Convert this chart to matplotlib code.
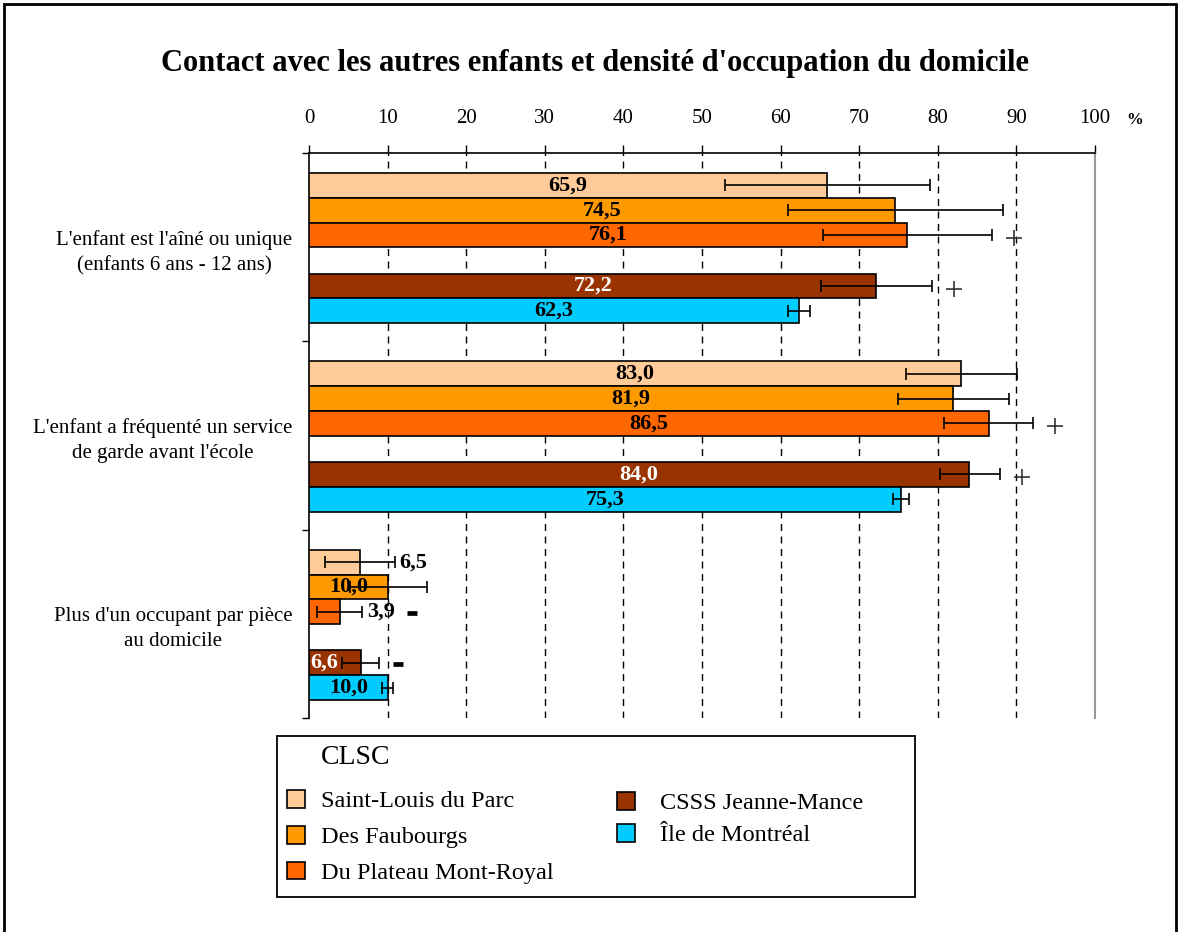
import matplotlib.pyplot as plt
from matplotlib.patches import Patch, Rectangle
from matplotlib.transforms import offset_copy

# Data
categories = ["L'enfant est l'aîné ou unique\n(enfants 6 ans - 12 ans)",
              "L'enfant a fréquenté un service\nde garde avant l'école",
              "Plus d'un occupant par pièce\nau domicile"]
series = ['Saint-Louis du Parc', 'Des Faubourgs', 'Du Plateau Mont-Royal',
          'CSSS Jeanne-Mance', 'Île de Montréal']
colors = ['#FFCC99', '#FF9900', '#FF6600', '#993300', '#00CCFF']

saint_louis = [65.9, 83.0, 6.5]
faubourgs = [74.5, 81.9, 10.0]
plateau = [76.1, 86.5, 3.9]
csss = [72.2, 84.0, 6.6]
ile = [62.3, 75.3, 10.0]
values = [saint_louis, faubourgs, plateau, csss, ile]

# confidence intervals (low, high)
ci_saint_louis = [(52.9, 79.0), (75.9, 90.1), (2.0, 10.9)]
ci_faubourgs = [(60.9, 88.3), (74.9, 89.1), (5.2, 15.0)]
ci_plateau = [(65.4, 86.9), (80.8, 92.1), (1.0, 6.8)]
ci_csss = [(65.1, 79.3), (80.3, 87.9), (4.2, 8.9)]
ci_ile = [(60.9, 63.7), (74.3, 76.3), (9.3, 10.7)]
cis = [ci_saint_louis, ci_faubourgs, ci_plateau, ci_csss, ci_ile]

# significance marks vs Île de Montréal
sig_plateau = ['+', '+', '-']
sig_csss = ['+', '+', '-']
sigs = [['', '', ''], ['', '', ''], sig_plateau, sig_csss, ['', '', '']]

plt.rcParams['font.family'] = 'Liberation Serif'

fig = plt.figure(figsize=(11.8, 9.32), dpi=100)
ax = fig.add_axes([309 / 1180, 1 - 718 / 932, (1095 - 309) / 1180, (718 - 153) / 932])

G = 7.6
offsets = [1.31, 2.31, 3.31, 5.37, 6.37]

for s in range(5):
    ys = [g * G + offsets[s] for g in range(3)]
    ax.barh(ys, values[s], height=1.0, color=colors[s], edgecolor='black',
            linewidth=1.2, zorder=3)
    lo = [values[s][g] - cis[s][g][0] for g in range(3)]
    hi = [cis[s][g][1] - values[s][g] for g in range(3)]
    ax.errorbar(values[s], ys, xerr=[lo, hi], fmt='none', ecolor='black',
                elinewidth=1.2, capsize=4, capthick=1.2, zorder=4)
    for g in range(3):
        v = values[s][g]
        txt = f'{v:.1f}'.replace('.', ',')
        tc = 'white' if s == 3 else 'black'
        outside = v < 8 and s in (0, 2)
        if outside:
            ax.annotate(txt, (cis[s][g][1], ys[g]), xytext=(3.5, 0),
                        textcoords='offset points', ha='left', va='center',
                        fontsize=16, fontweight='bold', color=tc, zorder=5)
        elif v < 8:
            ax.annotate(txt, (0, ys[g]), xytext=(1, 0), textcoords='offset points',
                        ha='left', va='center', fontsize=16, fontweight='bold',
                        color=tc, zorder=5)
        else:
            ax.text(v / 2, ys[g], txt, ha='center', va='center', fontsize=16,
                    fontweight='bold', color=tc, zorder=5)
        mark = sigs[s][g]
        if mark == '+':
            tr = offset_copy(ax.transData, fig=fig, x=22, y=-2.5, units='dots')
            ax.plot([cis[s][g][1]], [ys[g]], transform=tr, marker='+', ms=11.5,
                    mew=1.2, color='#333333', zorder=5)
        elif mark == '-':
            dx = 50 if outside else 19
            tr = offset_copy(ax.transData, fig=fig, x=dx, y=-1, units='dots')
            ax.plot([cis[s][g][1]], [ys[g]], transform=tr, marker='_', ms=7,
                    mew=3.4, color='black', zorder=5)

ax.set_xlim(0, 100)
ax.set_ylim(3 * G, 0)
ax.xaxis.tick_top()
ax.set_xticks(range(0, 101, 10))
ax.tick_params(axis='x', direction='out', length=6, width=1, pad=12, labelsize=15)
for x in range(10, 100, 10):
    ax.axvline(x, color='black', lw=1, ls=(0, (5, 4)), zorder=1)

ax.set_yticks([0, G, 2 * G, 3 * G])
ax.set_yticklabels([])
ax.tick_params(axis='y', which='major', direction='out', length=5, width=1)
ax.set_yticks([g * G + G / 2 for g in range(3)], minor=True)
ax.set_yticklabels(categories, minor=True, fontsize=15, multialignment='center',
                   linespacing=1.4)
ax.tick_params(axis='y', which='minor', length=0, pad=12)

ax.spines['bottom'].set_visible(False)
ax.spines['right'].set_color('#999999')
ax.spines['right'].set_linewidth(1.5)
ax.spines['top'].set_linewidth(1.2)
ax.spines['left'].set_linewidth(1.2)

fig.text(595 / 1180, 1 - 63 / 932, "Contact avec les autres enfants et densité d'occupation du domicile",
         ha='center', va='center', fontsize=22, fontweight='bold')
fig.text(1135 / 1180, 1 - 120 / 932, '%', ha='center', va='center', fontsize=12,
         fontweight='bold')

# legend: frame drawn separately, two columns placed as two legends
fig.add_artist(Rectangle((277 / 1180, 1 - 897 / 932), (915 - 277) / 1180, (897 - 736) / 932,
                         transform=fig.transFigure, fill=False, edgecolor='black',
                         linewidth=1.3))
handles = [Patch(facecolor=c, edgecolor='black', linewidth=1.2) for c in colors]
fig.legend(handles[:3], series[:3], loc='upper left',
           bbox_to_anchor=(287 / 1180, 1 - 790 / 932), fontsize=17.5,
           frameon=False, handlelength=0.74, handleheight=0.74,
           handletextpad=0.66, labelspacing=0.56, borderpad=0, borderaxespad=0)
fig.legend(handles[3:], series[3:], loc='upper left',
           bbox_to_anchor=(617 / 1180, 1 - 792 / 932), fontsize=17.5,
           frameon=False, handlelength=0.74, handleheight=0.74,
           handletextpad=1.03, labelspacing=0.4, borderpad=0, borderaxespad=0)
fig.text(321 / 1180, 1 - 758 / 932, 'CLSC', ha='left', va='center', fontsize=20)

fig.add_artist(Rectangle((4 / 1180, -0.01), 1172 / 1180, 1 - 4 / 932 + 0.01,
                         transform=fig.transFigure, fill=False, edgecolor='black',
                         linewidth=2))

fig.savefig('out.png', dpi=100)
